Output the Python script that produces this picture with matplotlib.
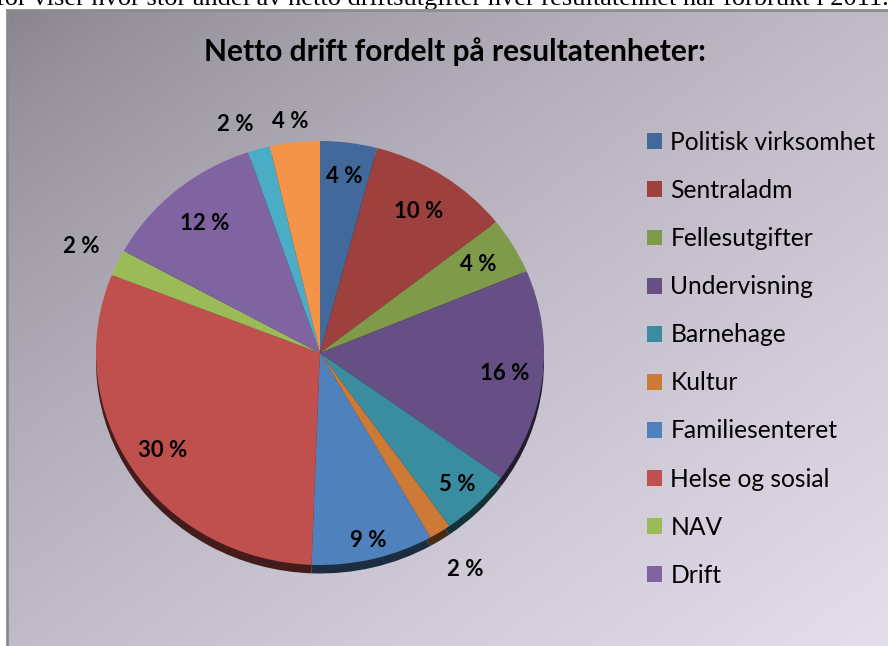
import matplotlib

matplotlib.use("Agg")
import matplotlib.pyplot as plt
import numpy as np
from matplotlib.colors import to_rgb
from matplotlib.patches import Patch

W, H = 888, 646

TITLE = "Netto drift fordelt på resultatenheter:"
BODY_TEXT = ("for viser hvor stor andel av netto driftsutgifter hver "
             "resultatenhet har forbrukt i 2011.")

# legend only shows the first ten units; the last two slices have no entry
CATEGORIES = ["Politisk virksomhet", "Sentraladm", "Fellesutgifter",
              "Undervisning", "Barnehage", "Kultur", "Familiesenteret",
              "Helse og sosial", "NAV", "Drift"]
SHARES = [4.1, 10.3, 4.3, 16.3, 5.2, 1.6, 8.8, 30.4, 2.0, 11.8, 1.6, 3.6]

COLORS = ["#41699c", "#9e413e", "#7f9a48", "#654f84", "#3a8ca0", "#cc7a36",
          "#4f81bd", "#c0504d", "#9bbb59", "#8064a2", "#4bacc6", "#f39449"]
# radial position of each data label (fraction of pie radius) and a small
# angular nudge (degrees) for the crowded outside labels
LABEL_R = [0.84, 0.80, 0.82, 0.83, 0.87, 1.21, 0.91, 0.84, 1.18, 0.80, 1.14, 1.10]
LABEL_DA = [0, 0, 0, 0, 0, 0, 0, 0, 0, 0, 3.5, 0.5]

FONT = "Lato"

fig = plt.figure(figsize=(W / 100, H / 100), dpi=100)

# --- background: cut-off body text, gradient chart area, frame ------------
bg = fig.add_axes([0, 0, 1, 1])
bg.set_xlim(0, W)
bg.set_ylim(H, 0)
bg.axis("off")
bg.text(-4, 5.5, BODY_TEXT, family="Liberation Serif", fontsize=19,
        va="baseline", ha="left", zorder=0)

xs = np.linspace(0, 1, 300)
ys = np.linspace(0, 1, 300)
gx, gy = np.meshgrid(xs, ys)
t = ((gx + gy) / 2) ** 0.7
c0 = np.array([134, 131, 140]) / 255
c1 = np.array([228, 222, 236]) / 255
grad = c0 + (c1 - c0) * t[..., None]
bg.imshow(grad, extent=(7, W, H, 10), aspect="auto", zorder=1)
bg.plot([7, 7], [H, 10], color="#8c8c8c", lw=2, zorder=2)
bg.plot([7, W], [10, 10], color="#8c8c8c", lw=2, zorder=2)

# --- pie ----------------------------------------------------------------
rx, ry = 224, 212
cx, cy = 320, 353
lim = 1.35
ax = fig.add_axes([(cx - lim * rx) / W, (H - cy - lim * ry) / H,
                   2 * lim * rx / W, 2 * lim * ry / H])
ax.patch.set_visible(False)

dark = [tuple(0.35 * v for v in to_rgb(c)) for c in COLORS]
ax.pie(SHARES, colors=dark, startangle=90, counterclock=False,
       center=(0, -0.04), wedgeprops=dict(linewidth=0))
wedges, _ = ax.pie(SHARES, colors=COLORS, startangle=90, counterclock=False,
                   wedgeprops=dict(linewidth=0))
ax.set_aspect("auto")
ax.set_xlim(-lim, lim)
ax.set_ylim(-lim, lim)
ax.axis("off")

for w, v, r, da in zip(wedges, SHARES, LABEL_R, LABEL_DA):
    mid = np.deg2rad((w.theta1 + w.theta2) / 2 + da)
    ax.text(r * np.cos(mid), r * np.sin(mid), f"{round(v)} %",
            ha="center", va="center", fontsize=16, fontweight="bold",
            family=FONT, color="black")

# --- title & legend -----------------------------------------------------
fig.text(455 / W, 1 - 52 / H, TITLE, ha="center", va="center",
         fontsize=21.5, fontweight="bold", family=FONT)

handles = [Patch(facecolor=c, edgecolor="none") for c in COLORS[:10]]
fig.legend(handles, CATEGORIES, loc="upper left",
           bbox_to_anchor=(647 / W, 1 - 131 / H), frameon=False,
           prop={"family": FONT, "size": 17.7},
           handlelength=0.62, handleheight=0.62, handletextpad=0.33,
           labelspacing=1.02, borderpad=0, borderaxespad=0)

fig.savefig("out.png", dpi=100)
